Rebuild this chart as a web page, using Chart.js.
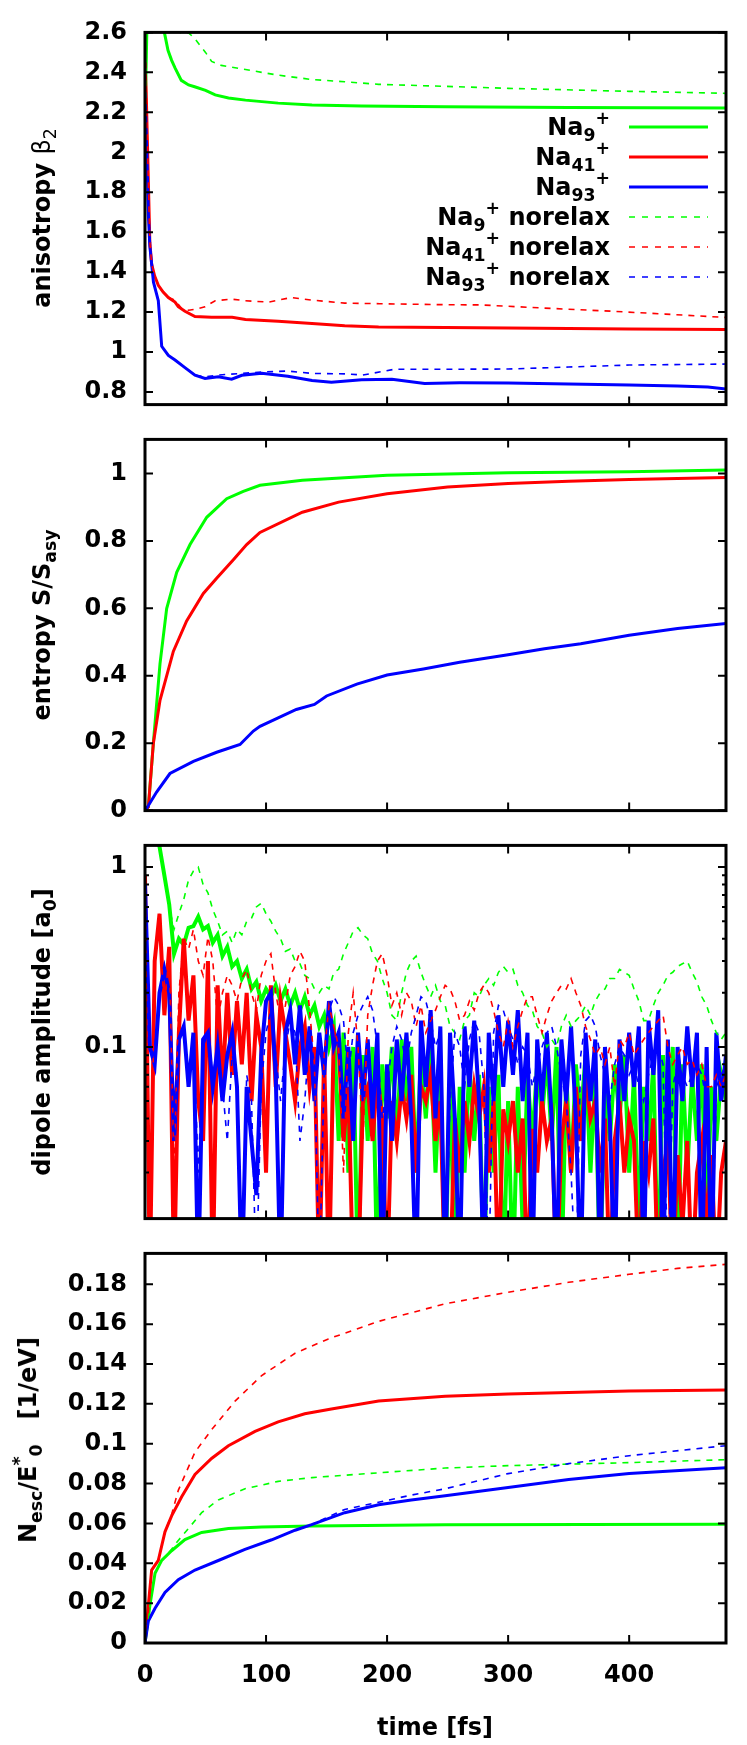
<!DOCTYPE html>
<html>
<head>
<meta charset="utf-8">
<script src="https://cdn.jsdelivr.net/npm/chart.js@4/dist/chart.umd.min.js"></script>
<style>
  html, body { margin: 0; padding: 0; background: #fff; }
  #page { position: relative; width: 747px; height: 1745px; overflow: hidden; background: #fff;
          font-family: "DejaVu Sans", sans-serif; font-weight: bold; font-size: 24px; color: #000; }
  .panel { position: absolute; left: 0; }
  .yt { position: absolute; white-space: nowrap; line-height: 1; transform: translate(-50%, -50%) rotate(-90deg); }
  .xt { position: absolute; white-space: nowrap; line-height: 1; transform: translate(-50%, -50%); }
  .lab { position: absolute; right: 137px; height: 30px; line-height: 30px; white-space: nowrap; text-align: right; }
  .key { position: absolute; left: 629px; }
  sub, sup { font-size: 0.72em; line-height: 0; position: relative; vertical-align: baseline; }
  sub { top: 0.35em; }
  sup { top: -0.65em; }
  .sym { font-weight: normal; }
</style>
</head>
<body>
<div id="page">
  <div class="panel" style="top:0px"><canvas id="c1" width="747" height="437"></canvas></div>
  <div class="panel" style="top:407px"><canvas id="c2" width="747" height="436"></canvas></div>
  <div class="panel" style="top:813px"><canvas id="c3" width="747" height="438"></canvas></div>
  <div class="panel" style="top:1221px"><canvas id="c4" width="747" height="524"></canvas></div>

  <div class="yt" style="left:42px;top:218px">anisotropy <span class="sym">β<sub>2</sub></span></div>
  <div class="yt" style="left:42px;top:625px">entropy S/S<sub>asy</sub></div>
  <div class="yt" style="left:42px;top:1032px">dipole amplitude [a<sub>0</sub>]</div>
  <div class="yt" style="left:28px;top:1440px">N<sub>esc</sub>/E<sup>*</sup><sub>0</sub>&nbsp;&nbsp;&nbsp;[1/eV]</div>
  <div class="xt" style="left:435px;top:1727px">time [fs]</div>

  <div class="lab" style="top:112px">Na<sub>9</sub><sup>+</sup></div>
  <div class="lab" style="top:142px">Na<sub>41</sub><sup>+</sup></div>
  <div class="lab" style="top:172px">Na<sub>93</sub><sup>+</sup></div>
  <div class="lab" style="top:202px">Na<sub>9</sub><sup>+</sup> norelax</div>
  <div class="lab" style="top:232px">Na<sub>41</sub><sup>+</sup> norelax</div>
  <div class="lab" style="top:262px">Na<sub>93</sub><sup>+</sup> norelax</div>
  <svg class="key" style="top:123px" width="80" height="8"><line x1="0" y1="4" x2="79" y2="4" stroke="#00ff00" stroke-width="3"/></svg>
  <svg class="key" style="top:153px" width="80" height="8"><line x1="0" y1="4" x2="79" y2="4" stroke="#ff0000" stroke-width="3"/></svg>
  <svg class="key" style="top:183px" width="80" height="8"><line x1="0" y1="4" x2="79" y2="4" stroke="#0000ff" stroke-width="3"/></svg>
  <svg class="key" style="top:213px" width="80" height="8"><line x1="0" y1="4" x2="79" y2="4" stroke="#00ff00" stroke-width="1.6" stroke-dasharray="6 7"/></svg>
  <svg class="key" style="top:243px" width="80" height="8"><line x1="0" y1="4" x2="79" y2="4" stroke="#ff0000" stroke-width="1.6" stroke-dasharray="6 7"/></svg>
  <svg class="key" style="top:273px" width="80" height="8"><line x1="0" y1="4" x2="79" y2="4" stroke="#0000ff" stroke-width="1.6" stroke-dasharray="6 7"/></svg>
</div>

<script>
// ---------- data: [time fs, value] ----------
const timeTicks = [100, 200, 300, 400];
const timeLabels = [0, 100, 200, 300, 400];

// panel 1: anisotropy beta2
const anisoTicks = [0.8, 1, 1.2, 1.4, 1.6, 1.8, 2, 2.2, 2.4, 2.6];
const beta9 = [[0,2.15],[1.5,2.6],[3,2.9],[10,2.9],[14,2.68],[16,2.6],[19,2.51],[22,2.46],[25,2.42],[30,2.36],[36,2.337],[41,2.328],[50,2.31],[58,2.287],[69,2.272],[83,2.261],[110,2.246],[138,2.237],[179,2.232],[248,2.228],[350,2.224],[480,2.222]];
const beta41 = [[0,2.45],[1,2.3],[2,2.05],[3,1.8],[4,1.55],[5.5,1.44],[8,1.38],[11,1.334],[15,1.3],[19.3,1.273],[24.8,1.25],[27.5,1.227],[33,1.204],[41.3,1.178],[55,1.174],[72,1.174],[83,1.163],[110,1.154],[138,1.143],[165,1.132],[193,1.126],[248,1.123],[300,1.12],[400,1.116],[480,1.113]];
const beta93 = [[0,2.3],[1.5,2.0],[2.8,1.685],[4,1.53],[7,1.35],[11,1.257],[13.8,1.029],[19.3,0.983],[24.8,0.96],[33,0.922],[41.3,0.884],[49.6,0.868],[60.6,0.876],[71.6,0.864],[80,0.884],[96.4,0.894],[118,0.879],[138,0.858],[154,0.849],[179,0.861],[204,0.864],[231,0.843],[260,0.846],[300,0.845],[350,0.84],[400,0.835],[440,0.83],[465,0.825],[480,0.815]];
const beta9nr = [[0,2.15],[1.5,2.6],[3,2.9],[18,2.8],[24,2.62],[30,2.595],[36,2.598],[41,2.57],[46,2.53],[50,2.5],[55,2.455],[63,2.435],[83,2.414],[110,2.386],[138,2.364],[165,2.353],[193,2.34],[248,2.33],[300,2.32],[400,2.305],[480,2.295]];
const beta41nr = [[0,2.45],[1,2.3],[2,2.05],[3,1.8],[4,1.55],[5.5,1.44],[8,1.38],[11,1.334],[15,1.3],[19.3,1.273],[24.8,1.26],[30,1.22],[36,1.209],[42,1.215],[49.6,1.227],[58,1.257],[71.6,1.265],[82.6,1.257],[102,1.25],[121,1.273],[138,1.26],[165,1.245],[194,1.242],[248,1.237],[277,1.236],[330,1.22],[387,1.204],[430,1.19],[480,1.173]];
const beta93nr = [[0,2.3],[1.5,2.0],[2.8,1.685],[4,1.53],[7,1.35],[11,1.257],[13.8,1.029],[19.3,0.983],[24.8,0.96],[33,0.922],[41.3,0.884],[49.6,0.875],[60,0.885],[80,0.893],[96,0.9],[118,0.905],[138,0.893],[165,0.891],[180,0.885],[206,0.914],[248,0.914],[300,0.915],[350,0.925],[400,0.935],[480,0.94]];

// panel 2: entropy S/Sasy
const entTicks = [0, 0.2, 0.4, 0.6, 0.8, 1];
const ent9 = [[0,0],[2.8,0.011],[6.9,0.2],[12.4,0.436],[17.9,0.599],[26.2,0.707],[37.2,0.789],[51,0.87],[67.5,0.925],[81.2,0.947],[95,0.965],[130,0.98],[200,0.995],[300,1.002],[400,1.005],[480,1.01]];
const ent41 = [[0,0],[2.8,0.011],[6.9,0.2],[12.4,0.327],[23.4,0.472],[34.4,0.5625],[48.2,0.644],[59.2,0.689],[73,0.744],[84,0.789],[95,0.825],[130,0.885],[160,0.915],[200,0.94],[250,0.96],[300,0.97],[350,0.977],[400,0.982],[480,0.988]];
const ent93 = [[0,0],[2.8,0.015],[9.6,0.055],[20.6,0.11],[40,0.146],[59.2,0.173],[78.5,0.196],[89.5,0.236],[95,0.25],[110,0.275],[125,0.3],[140,0.315],[150,0.34],[175,0.375],[200,0.402],[230,0.42],[260,0.44],[300,0.462],[330,0.48],[360,0.495],[400,0.52],[440,0.54],[480,0.555]];

// panel 3: dipole amplitude (log), sampled every 4 fs
const dipTicks = [0.1, 1];
const dipMinor = [0.02, 0.03, 0.04, 0.05, 0.06, 0.07, 0.08, 0.09, 0.2, 0.3, 0.4, 0.5, 0.6, 0.7, 0.8, 0.9];
const dipTime = [0,4,8,12,16,20,24,28,32,36, 40,44,48,52,56,60,64,68,72,76, 80,84,88,92,96,100,104,108,112,116,
  120,124,128,132,136,140,144,148,152,156, 160,164,168,172,176,180,184,188,192,196, 200,204,208,212,216,220,224,228,232,236,
  240,244,248,252,256,260,264,268,272,276, 280,284,288,292,296,300,304,308,312,316, 320,324,328,332,336,340,344,348,352,356,
  360,364,368,372,376,380,384,388,392,396, 400,404,408,412,416,420,424,428,432,436, 440,444,448,452,456,460,464,468,472,476, 480];
const dip9 = [2.0,2.0,1.6,1.3,0.9,0.62,0.33,0.4,0.37,0.46, 0.47,0.53,0.45,0.47,0.38,0.42,0.32,0.36,0.28,0.3,
  0.24,0.27,0.21,0.23,0.18,0.21,0.19,0.22,0.18,0.21, 0.17,0.2,0.16,0.19,0.15,0.17,0.13,0.15,0.1,0.13,
  0.03,0.12,0.02,0.1,0.005,0.09,0.03,0.1,0.005,0.08, 0.04,0.1,0.03,0.11,0.05,0.1,0.02,0.09,0.04,0.1,
  0.02,0.08,0.005,0.07,0.005,0.06,0.02,0.08,0.03,0.07, 0.005,0.06,0.02,0.07,0.005,0.05,0.005,0.06,0.01,0.07,
  0.03,0.08,0.04,0.09,0.03,0.1,0.005,0.07,0.02,0.08, 0.04,0.09,0.02,0.07,0.005,0.06,0.03,0.08,0.04,0.09,
  0.02,0.07,0.01,0.06,0.03,0.08,0.005,0.09,0.02,0.1, 0.005,0.08,0.02,0.07,0.03,0.08,0.01,0.06,0.03,0.07, 0.05];
const dip41 = [0.9,0.005,0.3,0.55,0.15,0.36,0.005,0.12,0.4,0.14, 0.25,0.05,0.03,0.3,0.005,0.22,0.06,0.2,0.07,0.18,
  0.08,0.2,0.05,0.15,0.1,0.02,0.22,0.06,0.18,0.12, 0.08,0.05,0.1,0.13,0.06,0.1,0.005,0.09,0.005,0.12,
  0.1,0.03,0.06,0.005,0.005,0.05,0.06,0.03,0.07,0.04, 0.005,0.05,0.03,0.06,0.04,0.07,0.02,0.06,0.05,0.07,
  0.03,0.05,0.005,0.005,0.04,0.02,0.05,0.03,0.06,0.04, 0.06,0.02,0.05,0.005,0.045,0.03,0.05,0.02,0.04,0.005,
  0.035,0.02,0.05,0.03,0.04,0.005,0.03,0.05,0.02,0.06, 0.03,0.07,0.04,0.05,0.02,0.04,0.005,0.03,0.05,0.02,
  0.04,0.03,0.005,0.03,0.02,0.04,0.005,0.02,0.03,0.005, 0.025,0.01,0.03,0.005,0.02,0.03,0.01,0.025,0.005,0.02, 0.03];
const dip93 = [0.8,0.1,0.08,0.2,0.27,0.2,0.03,0.11,0.13,0.06, 0.12,0.005,0.11,0.12,0.06,0.1,0.05,0.09,0.12,0.06,
  0.005,0.06,0.03,0.015,0.09,0.18,0.2,0.07,0.005,0.12, 0.16,0.08,0.17,0.07,0.13,0.05,0.12,0.07,0.18,0.1,
  0.12,0.04,0.1,0.03,0.12,0.05,0.11,0.04,0.12,0.005, 0.08,0.03,0.11,0.05,0.12,0.04,0.005,0.14,0.06,0.16,
  0.04,0.13,0.005,0.12,0.04,0.005,0.13,0.06,0.14,0.05, 0.005,0.12,0.05,0.15,0.06,0.14,0.07,0.16,0.05,0.12,
  0.005,0.11,0.05,0.12,0.04,0.005,0.11,0.05,0.13,0.04, 0.005,0.12,0.05,0.11,0.005,0.1,0.04,0.005,0.11,0.05,
  0.12,0.06,0.13,0.005,0.14,0.07,0.16,0.005,0.11,0.005, 0.1,0.05,0.13,0.06,0.12,0.005,0.1,0.005,0.12,0.05, 0.09];
const dip9nr = [2.0,2.0,1.6,1.3,0.9,0.6,0.45,0.55,0.66,0.85, 0.95,1.0,0.8,0.72,0.58,0.5,0.42,0.44,0.38,0.45,
  0.42,0.5,0.52,0.6,0.63,0.55,0.5,0.44,0.4,0.34, 0.35,0.3,0.29,0.25,0.24,0.21,0.2,0.22,0.21,0.26,
  0.27,0.33,0.38,0.44,0.46,0.42,0.4,0.33,0.3,0.24, 0.2,0.15,0.14,0.2,0.26,0.3,0.32,0.26,0.22,0.19,
  0.22,0.18,0.17,0.13,0.12,0.11,0.14,0.15,0.2,0.19, 0.22,0.24,0.22,0.26,0.28,0.26,0.27,0.22,0.2,0.17,
  0.16,0.13,0.12,0.1,0.11,0.1,0.13,0.15,0.13,0.14, 0.15,0.17,0.15,0.18,0.2,0.21,0.24,0.24,0.27,0.26,
  0.25,0.21,0.18,0.14,0.14,0.17,0.2,0.22,0.25,0.26, 0.28,0.29,0.3,0.26,0.23,0.19,0.17,0.14,0.12,0.11, 0.12];
const dip41nr = [0.9,0.005,0.3,0.55,0.15,0.36,0.02,0.2,0.4,0.35, 0.45,0.3,0.25,0.41,0.3,0.14,0.2,0.25,0.22,0.18,
  0.24,0.27,0.2,0.16,0.25,0.3,0.33,0.2,0.14,0.17, 0.25,0.28,0.34,0.3,0.16,0.08,0.005,0.09,0.17,0.13,
  0.1,0.02,0.12,0.2,0.1,0.03,0.15,0.22,0.3,0.33, 0.25,0.17,0.2,0.15,0.2,0.18,0.13,0.17,0.12,0.14,
  0.16,0.19,0.22,0.21,0.18,0.14,0.15,0.18,0.16,0.2, 0.22,0.2,0.16,0.12,0.1,0.14,0.1,0.13,0.16,0.19,
  0.19,0.15,0.12,0.15,0.18,0.2,0.22,0.21,0.24,0.2, 0.17,0.13,0.11,0.09,0.1,0.08,0.1,0.06,0.11,0.1,
  0.12,0.09,0.1,0.11,0.12,0.13,0.14,0.15,0.1,0.08, 0.09,0.1,0.08,0.085,0.07,0.08,0.06,0.06,0.07,0.06, 0.07];
const dip93nr = [0.8,0.1,0.08,0.2,0.27,0.2,0.03,0.11,0.13,0.06, 0.12,0.02,0.1,0.12,0.07,0.1,0.06,0.03,0.09,0.07,
  0.005,0.07,0.05,0.005,0.06,0.12,0.16,0.09,0.05,0.1, 0.14,0.12,0.03,0.05,0.12,0.08,0.005,0.07,0.16,0.19,
  0.17,0.14,0.07,0.12,0.15,0.17,0.19,0.16,0.1,0.04, 0.06,0.1,0.13,0.11,0.08,0.12,0.15,0.19,0.18,0.14,
  0.1,0.12,0.005,0.05,0.12,0.1,0.06,0.11,0.14,0.12, 0.06,0.005,0.12,0.17,0.16,0.13,0.11,0.08,0.1,0.09,
  0.06,0.08,0.1,0.12,0.13,0.1,0.07,0.05,0.02,0.005, 0.09,0.14,0.15,0.13,0.09,0.07,0.05,0.08,0.1,0.09,
  0.07,0.08,0.06,0.05,0.07,0.09,0.1,0.08,0.005,0.06, 0.08,0.07,0.06,0.07,0.08,0.07,0.05,0.005,0.06,0.07, 0.08];

// panel 4: Nesc / E*0
const escTicks = [0, 0.02, 0.04, 0.06, 0.08, 0.1, 0.12, 0.14, 0.16, 0.18];
const esc9 = [[0,0],[4.1,0.019],[8.3,0.035],[13.8,0.0415],[22,0.0463],[33,0.0519],[46.8,0.0555],[68.9,0.0574],[96.4,0.0582],[138,0.0587],[248,0.0594],[480,0.0596]];
const esc41 = [[0,0],[2.75,0.019],[5.5,0.0366],[11,0.0415],[16.5,0.0558],[22,0.0638],[30.3,0.0734],[41.3,0.0846],[55,0.0926],[68.9,0.099],[90.9,0.1062],[110,0.111],[132,0.115],[154,0.1174],[193,0.1214],[248,0.1238],[300,0.125],[400,0.1265],[480,0.127]];
const esc93 = [[0,0],[2.75,0.011],[8.3,0.0174],[16.5,0.0254],[27.5,0.0318],[41.3,0.0366],[60.6,0.0414],[82.6,0.047],[104.7,0.0518],[124,0.0566],[137.7,0.0594],[165,0.0654],[193,0.0694],[220,0.0718],[248,0.0739],[300,0.078],[350,0.082],[400,0.085],[480,0.088]];
const esc9nr = [[0,0],[4.1,0.019],[8.3,0.035],[13.8,0.0415],[22,0.047],[24.8,0.0495],[35.8,0.0574],[46.8,0.0654],[60.6,0.0718],[82.6,0.0774],[110,0.0811],[138,0.083],[193,0.0854],[248,0.0878],[300,0.089],[400,0.0905],[480,0.092]];
const esc41nr = [[0,0],[2.75,0.019],[5.5,0.0366],[11,0.0415],[16.5,0.0558],[22,0.0645],[27.5,0.0766],[41.3,0.0958],[55,0.107],[74.4,0.1214],[96.4,0.1342],[124,0.1454],[151.5,0.1526],[193,0.1614],[248,0.1702],[300,0.176],[350,0.181],[400,0.185],[440,0.188],[480,0.19]];
const esc93nr = [[0,0],[2.75,0.011],[8.3,0.0174],[16.5,0.0254],[27.5,0.0318],[41.3,0.0366],[60.6,0.0414],[82.6,0.047],[104.7,0.0518],[124,0.0566],[137.7,0.0594],[165,0.067],[220,0.0742],[248,0.0774],[300,0.085],[350,0.09],[400,0.094],[480,0.099]];

// ---------- drawing ----------
const COLORS = ['#00ff00', '#ff0000', '#0000ff'];
const FONT = { family: 'DejaVu Sans', size: 24, weight: 'bold' };
const fmt = v => String(Number(Number(v).toFixed(3)));

function lineSet(pairs, k, solidWidth) {
  const dashed = k >= 3;
  return {
    data: pairs.map(p => ({ x: p[0], y: p[1] })),
    borderColor: COLORS[k % 3],
    borderWidth: dashed ? 1.6 : solidWidth,
    borderDash: dashed ? [6, 6] : [],
    pointRadius: 0,
    tension: 0,
    fill: false,
    clip: 0,
    order: 5 - k   // later series on top, as in the original
  };
}

// frame + inward mirrored ticks (gnuplot look)
const frameTicks = {
  id: 'frameTicks',
  afterDatasetsDraw(chart, args, opts) {
    const { ctx, chartArea: a, scales } = chart;
    ctx.save();
    ctx.strokeStyle = '#000';
    ctx.lineWidth = 2;
    ctx.beginPath();
    const mark = (list, len) => list.forEach(v => {
      const py = scales.y.getPixelForValue(v);
      ctx.moveTo(a.left, py); ctx.lineTo(a.left + len, py);
      ctx.moveTo(a.right, py); ctx.lineTo(a.right - len, py);
    });
    mark(opts.yTicks || [], 8);
    mark(opts.yMinor || [], 4);
    timeTicks.forEach(v => {
      const px = scales.x.getPixelForValue(v);
      ctx.moveTo(px, a.top); ctx.lineTo(px, a.top + 8);
      ctx.moveTo(px, a.bottom); ctx.lineTo(px, a.bottom - 8);
    });
    ctx.stroke();
    ctx.lineWidth = 3;
    ctx.strokeRect(a.left, a.top, a.right - a.left, a.bottom - a.top);
    ctx.restore();
  }
};

function makePanel(id, series, y, showX, solidWidth) {
  const xScale = showX ? {
    type: 'linear', min: 0, max: 480, position: 'bottom',
    afterFit: s => { s.height = 102; },
    afterBuildTicks: s => { s.ticks = timeLabels.map(v => ({ value: v })); },
    grid: { display: false, drawTicks: false },
    border: { display: false },
    ticks: { font: FONT, color: '#000', padding: 18, autoSkip: false, maxRotation: 0, callback: v => fmt(v) }
  } : { type: 'linear', min: 0, max: 480, display: false };

  new Chart(document.getElementById(id), {
    type: 'line',
    data: { datasets: series.map((s, k) => lineSet(s, k, solidWidth || 3)) },
    options: {
      responsive: false,
      animation: false,
      devicePixelRatio: 1,
      layout: { padding: { left: 0, right: 21, top: 15, bottom: showX ? 0 : 15 } },
      plugins: {
        legend: { display: false },
        tooltip: { enabled: false },
        frameTicks: { yTicks: y.ticks, yMinor: y.minor || [] }
      },
      scales: {
        x: xScale,
        y: {
          type: y.type || 'linear',
          min: y.min, max: y.max,
          afterFit: s => { s.width = 145; },
          afterBuildTicks: s => { s.ticks = y.ticks.map(v => ({ value: v })); },
          grid: { display: false, drawTicks: false },
          border: { display: false },
          ticks: { font: FONT, color: '#000', padding: 18, autoSkip: false, callback: v => fmt(v) }
        }
      }
    },
    plugins: [frameTicks]
  });
}

const pair = vals => dipTime.map((t, k) => [t, vals[k]]);

makePanel('c1', [beta9, beta41, beta93, beta9nr, beta41nr, beta93nr],
  { min: 0.737, max: 2.6, ticks: anisoTicks }, false);
makePanel('c2', [ent9, ent41, ent93, [], [], []],
  { min: 0, max: 1.101, ticks: entTicks }, false);
makePanel('c3', [pair(dip9), pair(dip41), pair(dip93), pair(dip9nr), pair(dip41nr), pair(dip93nr)],
  { type: 'logarithmic', min: 0.0111, max: 1.32, ticks: dipTicks, minor: dipMinor }, false, 4);
makePanel('c4', [esc9, esc41, esc93, esc9nr, esc41nr, esc93nr],
  { min: 0, max: 0.1955, ticks: escTicks }, true);
</script>
</body>
</html>
